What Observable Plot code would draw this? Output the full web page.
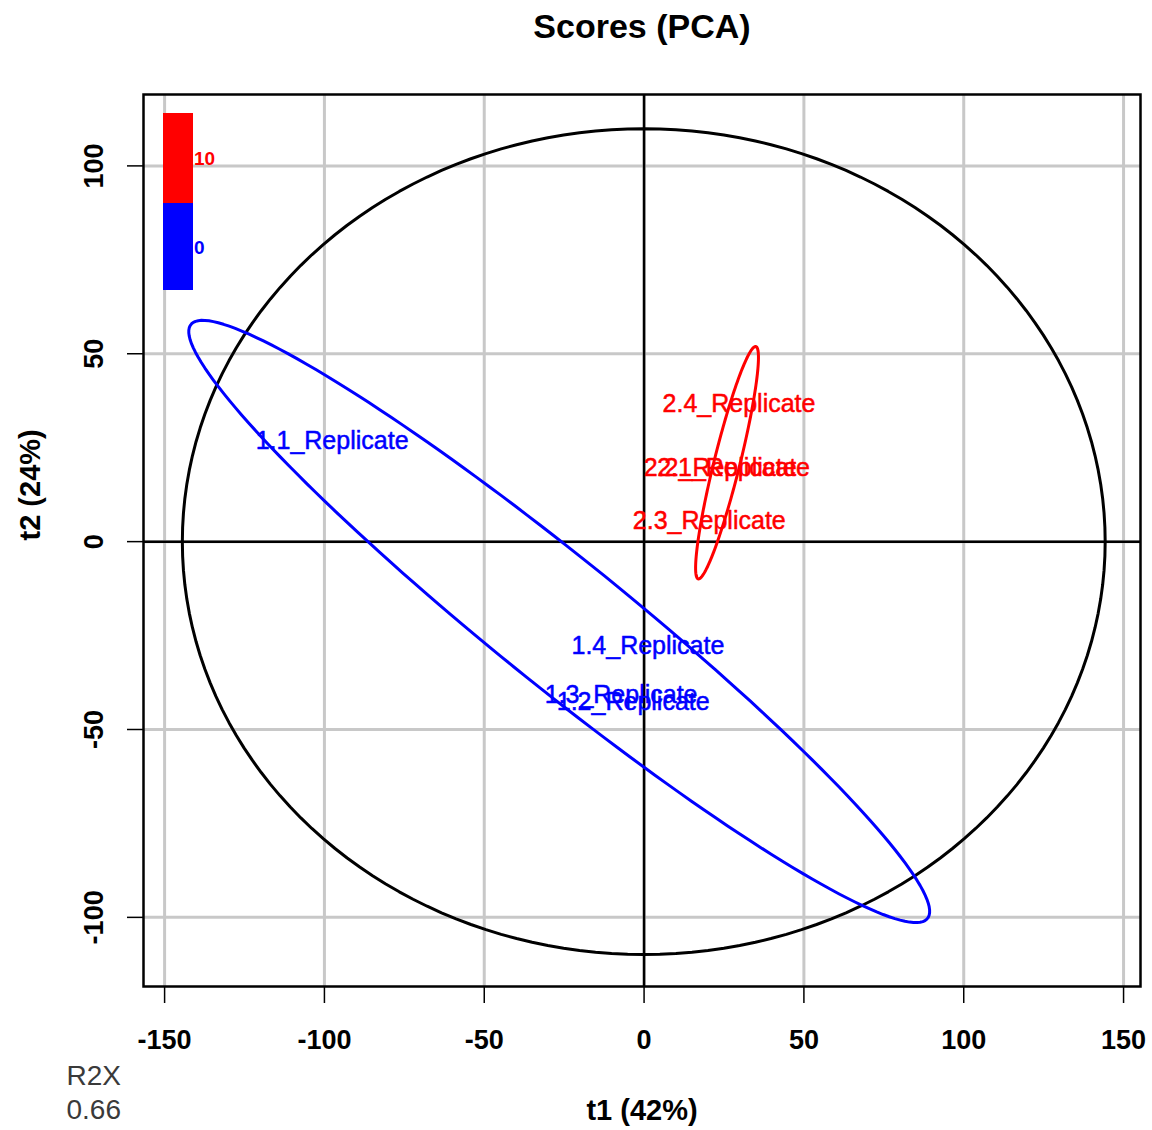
<!DOCTYPE html>
<html><head><meta charset="utf-8">
<script src="https://cdn.jsdelivr.net/npm/d3@7"></script>
<script src="https://cdn.jsdelivr.net/npm/@observablehq/plot@0.6"></script>
<style>
body{margin:0;background:#fff;}
#wrap{position:relative;width:1152px;height:1130px;overflow:hidden;}
#wrap svg{display:block;}
.lg{position:absolute;}
.lgt{position:absolute;font-family:'Liberation Sans',Arial,Helvetica,sans-serif;font-weight:bold;font-size:19px;line-height:19px;}
</style></head><body><div id="wrap"></div>
<script>
// ---- data ----
const sampleNames = ["1.1_Replicate","1.2_Replicate","1.3_Replicate","1.4_Replicate","2.1_Replicate","2.2_Replicate","2.3_Replicate","2.4_Replicate"];
const groupValues = ["0","0","0","0","10","10","10","10"];
const t1Scores = [-97.6,-3.4,-7.2,1.2,28.0,23.8,20.4,29.7];
const t2Scores = [26.9,-42.8,-40.7,-27.7,19.6,19.6,5.6,36.7];
const xTicks = [-150,-100,-50,0,50,100,150];
const yTicks = [-100,-50,0,50,100];
const groupLevels = ["0","10"];
const groupColors = ["#0000ff","#ff0000"];
// ellipses: overall Hotelling T2 ellipse, then one per group
const ellipseNames = ["all","0","10"];
const ellipseCenterT1 = [-0.1,-26.55,25.95];
const ellipseCenterT2 = [0,-21.25,21.0];
const ellipseMajor = [144.35,139.75,32.2];
const ellipseMinor = [109.9,18.0,4.0];
const ellipseAngleDeg = [0,-34.3,73.67];
const ellipseColors = ["#000000","#0000ff","#ff0000"];
const r2x = "0.66";

// ---- build tables ----
const points = sampleNames.map((n,i)=>({name:n, group:groupValues[i], t1:t1Scores[i], t2:t2Scores[i]}));
function ellipsePath(k){
  const th = ellipseAngleDeg[k]*Math.PI/180, c=Math.cos(th), s=Math.sin(th);
  return d3.range(0,361,2).map(deg=>{
    const t=deg*Math.PI/180, a=ellipseMajor[k]*Math.cos(t), b=ellipseMinor[k]*Math.sin(t);
    return {t1: ellipseCenterT1[k] + a*c - b*s, t2: ellipseCenterT2[k] + a*s + b*c};
  });
}
const font = "'Liberation Sans', Arial, Helvetica, sans-serif";
const fmt = d => String(d);

const chart = Plot.plot({
  width:1152, height:1130,
  marginLeft:143, marginRight:12, marginTop:94, marginBottom:144,
  style:{fontFamily:font, background:"white", color:"black"},
  x:{domain:[-156.6,155.3]},
  y:{domain:[-118.4,119.0]},
  color:{domain:groupLevels, range:groupColors},
  marks:[
    Plot.ruleX(xTicks,{stroke:"#c8c8c8",strokeWidth:3}),
    Plot.ruleY(yTicks,{stroke:"#c8c8c8",strokeWidth:3}),
    Plot.ruleX([0],{stroke:"black",strokeWidth:2.5}),
    Plot.ruleY([0],{stroke:"black",strokeWidth:2.5}),
    Plot.frame({stroke:"black",strokeWidth:2.5}),
    ...ellipseNames.map((n,k)=>Plot.line(ellipsePath(k),{x:"t1",y:"t2",stroke:ellipseColors[k],strokeWidth:3})),
    Plot.text(points,{x:"t1",y:"t2",text:"name",fill:"group",stroke:"group",strokeWidth:0.5,fontSize:25}),
    Plot.axisX(xTicks,{tickSize:17,tickPadding:26,fontSize:27,fontWeight:"bold",label:null,strokeWidth:1.5,tickFormat:fmt}),
    Plot.axisY(yTicks,{tickSize:16,tickPadding:25,tickRotate:-90,textAnchor:"middle",lineAnchor:"bottom",fontSize:27,fontWeight:"bold",label:null,strokeWidth:1.5,tickFormat:fmt}),
    Plot.text(["Scores (PCA)"],{text:d=>d,frameAnchor:"top",lineAnchor:"middle",dy:-67,fontSize:34,fontWeight:"bold"}),
    Plot.text(["t1 (42%)"],{text:d=>d,frameAnchor:"bottom",lineAnchor:"middle",dy:124,fontSize:29,fontWeight:"bold"}),
    Plot.text(["t2 (24%)"],{text:d=>d,frameAnchor:"left",lineAnchor:"middle",dx:-113,rotate:-90,fontSize:29,fontWeight:"bold"}),
    Plot.text(["R2X"],{text:d=>d,frameAnchor:"bottom-left",lineAnchor:"middle",dx:-77,dy:90,textAnchor:"start",fontSize:28,fill:"#3a3a3a"}),
    Plot.text([r2x],{text:d=>d,frameAnchor:"bottom-left",lineAnchor:"middle",dx:-77,dy:124,textAnchor:"start",fontSize:28,fill:"#3a3a3a"})
  ]
});
const wrap = document.getElementById("wrap");
wrap.appendChild(chart);

// colour-key legend (top-left), from groupLevels / groupColors
const legendSpec = [
  {lvl:groupLevels[1], col:groupColors[1], top:113, h:90},
  {lvl:groupLevels[0], col:groupColors[0], top:203, h:87}
];
legendSpec.forEach(s=>{
  const box=document.createElement("div");
  box.className="lg";
  Object.assign(box.style,{left:"163px",top:s.top+"px",width:"30px",height:s.h+"px",background:s.col});
  wrap.appendChild(box);
  const lab=document.createElement("div");
  lab.className="lgt";
  lab.textContent=s.lvl;
  Object.assign(lab.style,{left:"194px",top:(s.top+s.h/2-9)+"px",color:s.col});
  wrap.appendChild(lab);
});
</script></body></html>
